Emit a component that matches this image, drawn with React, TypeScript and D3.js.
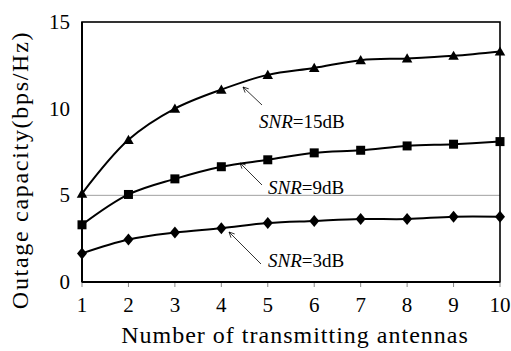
import React from "react";
import * as d3 from "d3";

const antennas = [1, 2, 3, 4, 5, 6, 7, 8, 9, 10];
const snr15 = [5.1, 8.2, 10.0, 11.1, 11.95, 12.35, 12.8, 12.9, 13.05, 13.3];
const snr9 = [3.3, 5.05, 5.95, 6.65, 7.05, 7.45, 7.6, 7.85, 7.95, 8.1];
const snr3 = [1.65, 2.45, 2.85, 3.1, 3.4, 3.52, 3.63, 3.63, 3.77, 3.77];
const yTicks = [0, 5, 10, 15];
const gridValues = [5];

const W = 511;
const H = 351;
const FONT = "Liberation Serif";

const left = 82, right = 500, top = 22, bottom = 282;
const x = d3.scaleLinear().domain([1, 10]).range([left, right]);
const y = d3.scaleLinear().domain([0, 15]).range([bottom, top]);

const line = d3
  .line<number>()
  .x((d, i) => x(antennas[i]))
  .y((d) => y(d))
  .curve(d3.curveCatmullRom.alpha(0.5));

const tri = d3.symbol().type(d3.symbolTriangle).size(48)() || "";
const sq = d3.symbol().type(d3.symbolSquare).size(81)() || "";
const dia = "M0,-6L5,0L0,6L-5,0Z";

const series = [
  { values: snr15, shape: tri, dy: 1 },
  { values: snr9, shape: sq, dy: 0 },
  { values: snr3, shape: dia, dy: 0 },
];

// label position, arrow tail -> head (pointing at curve)
const notes = [
  { label: "15dB", tx: 259, ty: 128, x1: 262, y1: 105, x2: 243, y2: 87 },
  { label: "9dB", tx: 268, ty: 194, x1: 262, y1: 185, x2: 240, y2: 163 },
  { label: "3dB", tx: 268, ty: 267, x1: 261, y1: 264, x2: 229, y2: 232 },
];

const Arrow = ({ n }: { n: (typeof notes)[number] }) => {
  const ang = Math.atan2(n.y1 - n.y2, n.x1 - n.x2);
  const a = 0.45, len = 6;
  const p1 = [n.x2 + len * Math.cos(ang + a), n.y2 + len * Math.sin(ang + a)];
  const p2 = [n.x2 + len * Math.cos(ang - a), n.y2 + len * Math.sin(ang - a)];
  return (
    <g stroke="#000" strokeWidth={0.8} fill="none">
      <line x1={n.x1} y1={n.y1} x2={n.x2} y2={n.y2} />
      <path d={`M${p1[0]},${p1[1]}L${n.x2},${n.y2}L${p2[0]},${p2[1]}`} />
    </g>
  );
};

export default function App() {
  return (
    <svg width={W} height={H} fontFamily={FONT} style={{ position: "absolute", left: 0, top: 0 }}>
      {gridValues.map((v) => (
        <line key={v} x1={left} x2={right} y1={y(v)} y2={y(v)} stroke="#a0a0a0" strokeWidth={1} />
      ))}
      <rect x={left} y={top} width={right - left} height={bottom - top} fill="none" stroke="#000" strokeWidth={1.6} />

      {antennas.map((t) => (
        <g key={t} transform={`translate(${x(t)},${bottom})`}>
          <line y1={0} y2={5} stroke="#888" />
          <text y={30} textAnchor="middle" fontFamily={FONT} fontSize={21}>
            {t}
          </text>
        </g>
      ))}
      {yTicks.map((t) => (
        <text key={t} x={70} y={y(t) + 7} textAnchor="end" fontFamily={FONT} fontSize={21}>
          {t}
        </text>
      ))}

      <line x1={left} x2={left} y1={top} y2={bottom} stroke="#000" strokeWidth={2} />
      <line x1={left} x2={right} y1={bottom} y2={bottom} stroke="#000" strokeWidth={2} />

      {series.map((s, si) => (
        <g key={si}>
          <path d={line(s.values) || ""} fill="none" stroke="#000" strokeWidth={2} />
          {s.values.map((v, i) => (
            <path key={i} d={s.shape} transform={`translate(${x(antennas[i])},${y(v) + s.dy})`} fill="#000" />
          ))}
        </g>
      ))}

      {notes.map((n) => (
        <g key={n.label}>
          <Arrow n={n} />
          <text x={n.tx} y={n.ty} fontFamily={FONT} fontSize={19}>
            <tspan fontStyle="italic">SNR</tspan>
            <tspan>{"=" + n.label}</tspan>
          </text>
        </g>
      ))}

      <text x={(left + right) / 2 + 4} y={343} textAnchor="middle" fontFamily={FONT} fontSize={24} letterSpacing={1}>
        Number of transmitting antennas
      </text>
      <text
        transform="translate(28,170) rotate(-90)"
        textAnchor="middle"
        fontFamily={FONT}
        fontSize={24}
        letterSpacing={1.7}
      >
        Outage capacity(bps/Hz)
      </text>
    </svg>
  );
}
